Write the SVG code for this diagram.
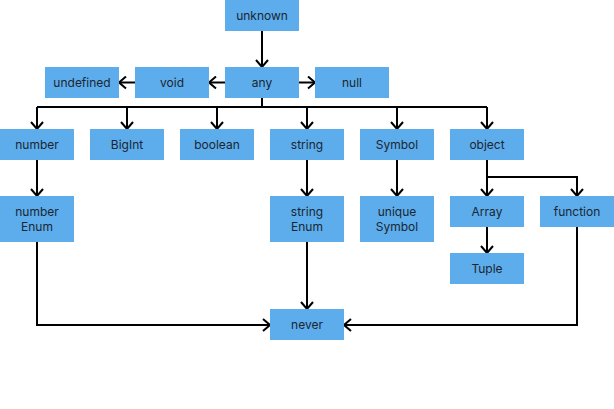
<svg xmlns="http://www.w3.org/2000/svg" width="614" height="409" viewBox="0 0 614 409">
<style>
.n rect{fill:#5DADEC}
.n text{font-family:Inter,"Noto Sans",sans-serif;font-size:12px;fill:#1b2530;text-anchor:middle;dominant-baseline:central}
.c path{fill:none;stroke:#000;stroke-width:2}
</style>
<defs>
<marker id="a" viewBox="0 0 9 14" refX="8" refY="7" markerWidth="9" markerHeight="14" markerUnits="userSpaceOnUse" orient="auto">
<path d="M1,1 L8,7 L1,13" fill="none" stroke="#000" stroke-width="2"/>
</marker>
</defs>
<rect width="614" height="409" fill="#fff"/>
<g class="c">
<path d="M262,31 V67" marker-end="url(#a)"/>
<path d="M225,82.5 H209" marker-end="url(#a)"/>
<path d="M135,82.5 H119" marker-end="url(#a)"/>
<path d="M299,82.5 H315" marker-end="url(#a)"/>
<path d="M262,98 V107"/>
<path d="M37,107 H487"/>
<path d="M37,107 V129" marker-end="url(#a)"/>
<path d="M127,107 V129" marker-end="url(#a)"/>
<path d="M217,107 V129" marker-end="url(#a)"/>
<path d="M307,107 V129" marker-end="url(#a)"/>
<path d="M397,107 V129" marker-end="url(#a)"/>
<path d="M487,107 V129" marker-end="url(#a)"/>
<path d="M37,160 V196" marker-end="url(#a)"/>
<path d="M307,160 V196" marker-end="url(#a)"/>
<path d="M397,160 V196" marker-end="url(#a)"/>
<path d="M487,160 V196" marker-end="url(#a)"/>
<path d="M487,177 H577 V196" marker-end="url(#a)"/>
<path d="M487,227 V253" marker-end="url(#a)"/>
<path d="M307,242 V309" marker-end="url(#a)"/>
<path d="M37,242 V325 H270" marker-end="url(#a)"/>
<path d="M577,227 V325 H344" marker-end="url(#a)"/>
</g>
<g id="unknown" class="n"><rect x="225" y="0" width="74" height="31"/><text x="262" y="15.5">unknown</text></g>
<g id="any" class="n"><rect x="225" y="67" width="74" height="31"/><text x="262" y="82.5">any</text></g>
<g id="void" class="n"><rect x="135" y="67" width="74" height="31"/><text x="172" y="82.5">void</text></g>
<g id="undefined" class="n"><rect x="45" y="67" width="74" height="31"/><text x="82" y="82.5">undefined</text></g>
<g id="null" class="n"><rect x="315" y="67" width="74" height="31"/><text x="352" y="82.5">null</text></g>
<g id="number" class="n"><rect x="0" y="129" width="74" height="31"/><text x="37" y="144.5">number</text></g>
<g id="BigInt" class="n"><rect x="90" y="129" width="74" height="31"/><text x="127" y="144.5">BigInt</text></g>
<g id="boolean" class="n"><rect x="180" y="129" width="74" height="31"/><text x="217" y="144.5">boolean</text></g>
<g id="string" class="n"><rect x="270" y="129" width="74" height="31"/><text x="307" y="144.5">string</text></g>
<g id="Symbol" class="n"><rect x="360" y="129" width="74" height="31"/><text x="397" y="144.5">Symbol</text></g>
<g id="object" class="n"><rect x="450" y="129" width="74" height="31"/><text x="487" y="144.5">object</text></g>
<g id="numberEnum" class="n"><rect x="0" y="196" width="74" height="46"/><text x="37" y="211.5">number</text><text x="37" y="226.5">Enum</text></g>
<g id="stringEnum" class="n"><rect x="270" y="196" width="74" height="46"/><text x="307" y="211.5">string</text><text x="307" y="226.5">Enum</text></g>
<g id="uniqueSymbol" class="n"><rect x="360" y="196" width="74" height="46"/><text x="397" y="211.5">unique</text><text x="397" y="226.5">Symbol</text></g>
<g id="Array" class="n"><rect x="450" y="196" width="74" height="31"/><text x="487" y="211.5">Array</text></g>
<g id="function" class="n"><rect x="540" y="196" width="74" height="31"/><text x="577" y="211.5">function</text></g>
<g id="Tuple" class="n"><rect x="450" y="253" width="74" height="31"/><text x="487" y="268.5">Tuple</text></g>
<g id="never" class="n"><rect x="270" y="309" width="74" height="31"/><text x="307" y="324.5">never</text></g>
</svg>
